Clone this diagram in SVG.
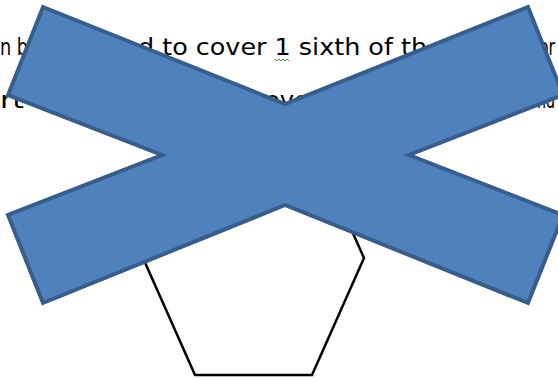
<svg xmlns="http://www.w3.org/2000/svg" width="558" height="379" viewBox="0 0 558 379">
  <style>
    .t { font-family: "DejaVu Sans", "Liberation Sans", sans-serif; font-size: 23px; fill: #000; }
  </style>
  <rect width="558" height="379" fill="#ffffff"/>
  <g id="text">
    <text class="t" x="0" y="55" textLength="28" lengthAdjust="spacingAndGlyphs">n b</text>
    <text class="t" x="138" y="55" textLength="289" lengthAdjust="spacingAndGlyphs">d to cover 1 sixth of th</text>
    <text class="t" x="539" y="55" textLength="16" lengthAdjust="spacingAndGlyphs">or</text>
    <text class="t" x="0" y="108" textLength="24" lengthAdjust="spacingAndGlyphs">rt</text>
    <text class="t" x="265" y="108" textLength="44" lengthAdjust="spacingAndGlyphs">ove</text>
    <text class="t" x="537" y="108" textLength="18" lengthAdjust="spacingAndGlyphs">nd</text>
    <polyline points="275,59 277,61 279,59 281,61 283,59 285,61 287,59 289,61" fill="none" stroke="#3a9a3a" stroke-width="1"/>
  </g>
  <g id="hexagon">
    <polygon points="195,375 312,375 364,258 312,141 195,141 143,258" fill="#ffffff" stroke="#000000" stroke-width="2.5" stroke-linejoin="miter"/>
  </g>
  <g id="cross">
    <polygon points="43,7 285,104 528,7 563,95 409,155 563,215 528,303 285,205 43,303 8,215 162,155 8,95" fill="#4F81BD" stroke="#385D8A" stroke-width="4" stroke-linejoin="miter"/>
  </g>
</svg>
